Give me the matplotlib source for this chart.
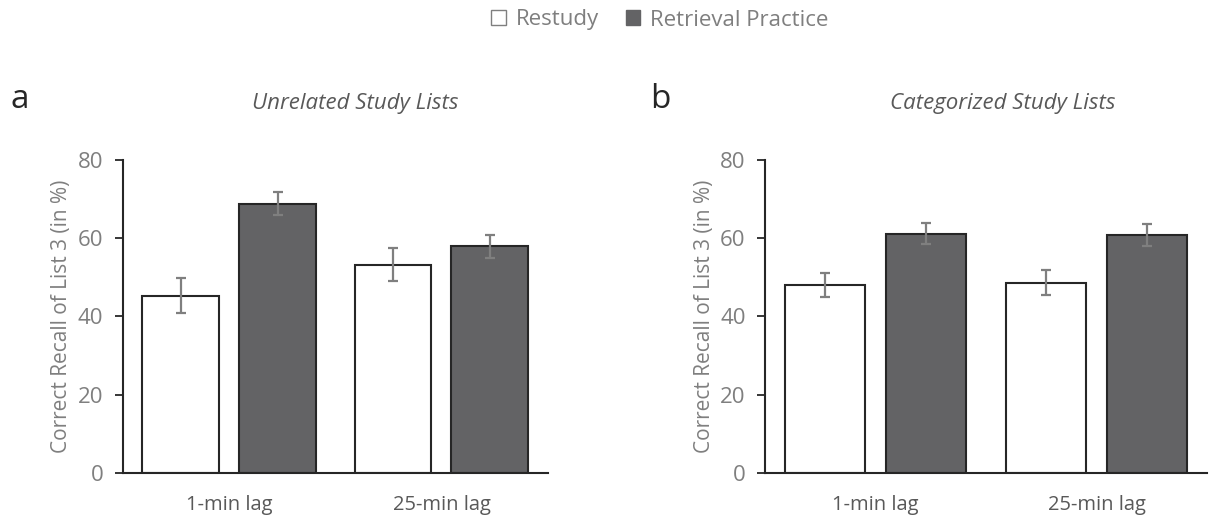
import numpy as np
from matplotlib import pyplot
from matplotlib.patches import Patch

pyplot.rcParams['font.family'] = ['Open Sans', 'DejaVu Sans']

lags = ["1-min lag", "25-min lag"]
conditions = ["Restudy", "Retrieval Practice"]
titles = ["Unrelated Study Lists", "Categorized Study Lists"]
panels = ["a", "b"]

# mean recall (%) per lag, [restudy, retrieval]
unrelated_restudy = [45.3, 53.2]
unrelated_retrieval = [68.8, 57.9]
unrelated_restudy_err = [4.4, 4.2]
unrelated_retrieval_err = [2.9, 3.0]

categorized_restudy = [48.1, 48.6]
categorized_retrieval = [61.1, 60.9]
categorized_restudy_err = [3.1, 3.2]
categorized_retrieval_err = [2.7, 2.8]

data = [
    (unrelated_restudy, unrelated_retrieval, unrelated_restudy_err, unrelated_retrieval_err),
    (categorized_restudy, categorized_retrieval, categorized_restudy_err, categorized_retrieval_err),
]

dark = '#636365'
edge = '#262626'
grey = '#7f7f7f'

fig = pyplot.figure(figsize=(12.17, 5.19), dpi=100)
axes_pos = [[0.101, 0.0886, 0.349, 0.6034], [0.6286, 0.0886, 0.3632, 0.6034]]
title_x = [355, 1003]
panel_x = [20, 660]

bw = 0.362
off = 0.228
x = np.arange(len(lags))

for i, (rs, rp, rs_e, rp_e) in enumerate(data):
    ax = fig.add_axes(axes_pos[i])
    ekw = dict(ecolor=grey, elinewidth=1.6, capsize=3.5, capthick=1.6)
    ax.bar(x - off, rs, bw, yerr=rs_e, color='white', edgecolor=edge,
           lw=1.5, error_kw=ekw, zorder=2)
    ax.bar(x + off, rp, bw, yerr=rp_e, color=dark, edgecolor=edge,
           lw=1.5, error_kw=ekw, zorder=2)

    ax.set_xlim(-0.5, 1.5)
    ax.set_ylim(0, 80)
    ax.set_yticks([0, 20, 40, 60, 80])
    ax.set_xticks(x)
    ax.set_xticklabels(lags)
    ax.tick_params(axis='y', length=6, width=1.3, color=edge,
                   labelcolor=grey, labelsize=16, pad=8)
    ax.tick_params(axis='x', length=0, labelcolor='#595959',
                   labelsize=14.5, pad=16)
    for s in ['top', 'right']:
        ax.spines[s].set_visible(False)
    for s in ['left', 'bottom']:
        ax.spines[s].set_color(edge)
        ax.spines[s].set_linewidth(1.5)
    ax.set_ylabel("Correct Recall of List 3 (in %)", fontsize=15,
                  color=grey, labelpad=4)

    fig.text(title_x[i] / 1217, 1 - 103 / 519, titles[i], ha='center',
             va='center', fontsize=16, style='italic', color='#595959')
    fig.text(panel_x[i] / 1217, 1 - 100 / 519, panels[i], ha='center',
             va='center', fontsize=24, color='#262626')

handles = [Patch(facecolor='white', edgecolor=grey, lw=1),
           Patch(facecolor=dark, edgecolor=dark, lw=1)]
fig.legend(handles, conditions, loc='center', bbox_to_anchor=(660 / 1217, 1 - 20 / 519),
           ncol=2, frameon=False, fontsize=16, labelcolor=grey,
           handlelength=0.65, handleheight=0.65, handletextpad=0.45,
           columnspacing=1.2)

pyplot.savefig('out.png')
